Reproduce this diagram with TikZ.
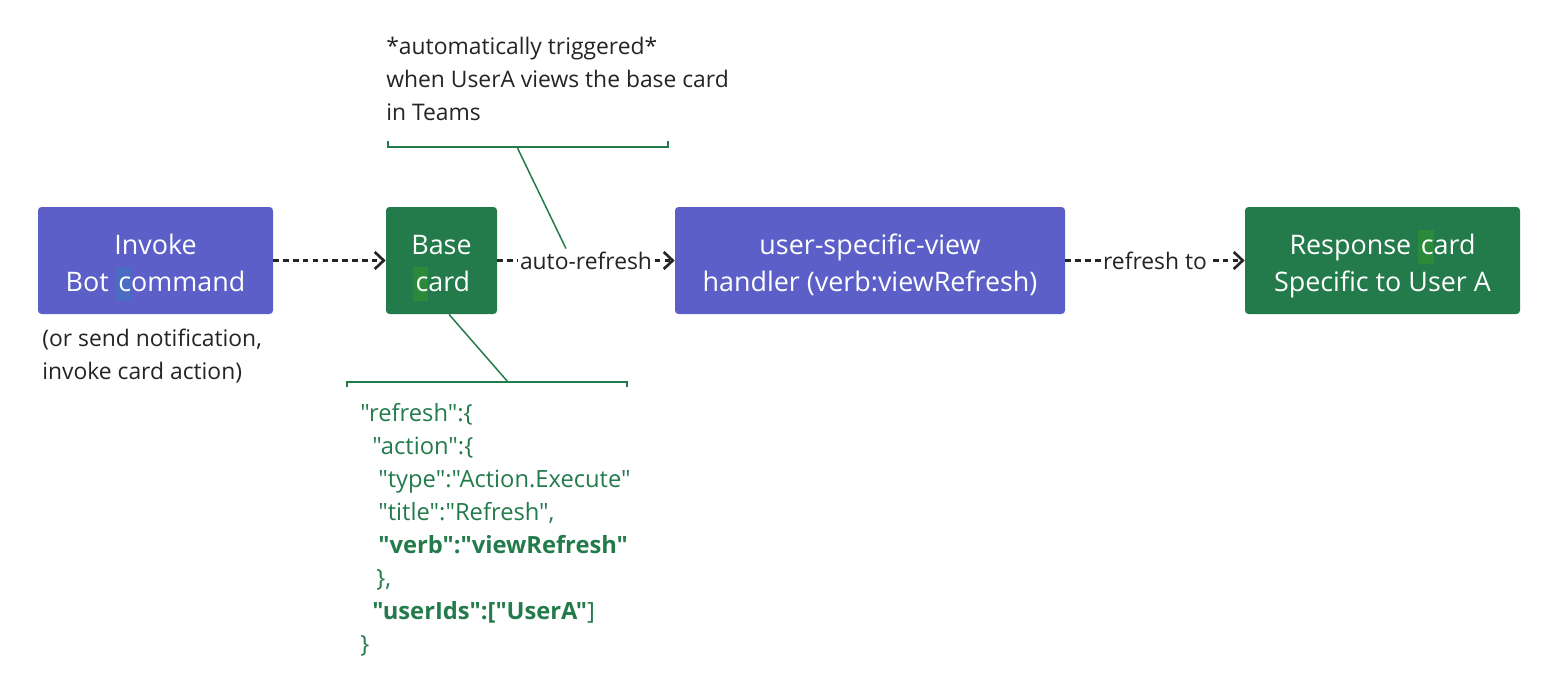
\documentclass[tikz,border=0pt]{standalone}
\usepackage{fontspec}
\setmainfont{Open Sans}[Ligatures=TeXOff]
\usetikzlibrary{arrows.meta,positioning,calc}
\definecolor{teamsblue}{HTML}{5B5FC7}
\definecolor{teamsgreen}{HTML}{237B4B}
\definecolor{inkgray}{HTML}{242424}
\definecolor{hlblue}{HTML}{4A6CC2}
\definecolor{hlgreen}{HTML}{2B8A3A}
\newcommand{\hlc}[2]{\smash{{\setlength{\fboxsep}{0pt}\colorbox{#2}{\rule[-0.33em]{0pt}{1.26em}\kern0.1em#1}}}}
\newcommand{\cardtext}[2]{\rule{0pt}{18.8pt}#1\\#2\rule[-4.2pt]{0pt}{4.2pt}}

\begin{document}
\begin{tikzpicture}[
  box/.style={rectangle, rounded corners=2pt, minimum height=2.14cm, inner sep=0pt, align=center, text=white, font=\fontsize{15.3}{21}\selectfont},
  bluebox/.style={box, fill=teamsblue},
  greenbox/.style={box, fill=teamsgreen},
  lab/.style={font=\fontsize{13}{18.7}\selectfont, text=inkgray},
  json/.style={font=\fontsize{13.5}{18.8}\selectfont, text=teamsgreen, align=left, inner sep=0pt},
  arr/.style={-{Straight Barb[length=1.8mm,width=3.4mm]}, line width=1.5pt, dash pattern=on 3.2pt off 2.4pt, inkgray},
  brace/.style={teamsgreen, line width=0.85pt}]
  \useasboundingbox (0,0) rectangle (31.16,-13.74);
  % boxes
  \node[bluebox, minimum width=4.7cm] (bot) at (3.11,-5.21) {\cardtext{Invoke}{Bot \hlc{c}{hlblue}ommand}};
  \node[greenbox, minimum width=2.22cm] (base) at (8.83,-5.21) {\cardtext{Base}{\hlc{c}{hlgreen}ard}};
  \node[bluebox, minimum width=7.8cm] (view) at (17.4,-5.21) {\cardtext{user-specific-view}{handler (verb:viewRefresh)}};
  \node[greenbox, minimum width=5.5cm] (resp) at (27.65,-5.21) {\cardtext{Response \hlc{c}{hlgreen}ard}{Specific to User A}};
  \draw[arr] (bot) -- (base);
  \draw[arr] (base) -- node[lab, fill=white, inner sep=1pt] (auto) {auto-refresh} (view);
  \draw[arr] (view) -- node[lab, fill=white, inner sep=1pt] (refr) {refresh to} (resp);
  % notes
  \node[lab, anchor=north west, align=left, inner sep=0pt] (notif) at (0.84,-6.58) {(or send notification,\\invoke card action)};
  \node[lab, anchor=north west, align=left, inner sep=0pt] (trig) at (7.72,-0.74) {*automatically triggered*\\when UserA views the base card\\in Teams};
  \draw[brace] (7.76,-2.82) -- (7.76,-2.94) -- (13.36,-2.94) -- (13.36,-2.82);
  \coordinate (tb) at (10.34,-2.94);
  \draw[brace] (tb) -- ($(auto.north)+(-0.4,0)$);
  % refresh json
  \node[json, anchor=north west] (code) at (7.2,-8.06) {"refresh":\{\\
    \hspace*{0.24cm}"action":\{\\
    \hspace*{0.36cm}"type":"Action.Execute"\\
    \hspace*{0.36cm}"title":"Refresh",\\
    \hspace*{0.36cm}\textbf{"verb":"viewRefresh"}\\
    \hspace*{0.32cm}\},\\
    \hspace*{0.24cm}\textbf{"userIds":["UserA"}]\\
    \}};
  \draw[brace] (6.94,-7.74) -- (6.94,-7.64) -- (12.54,-7.64) -- (12.54,-7.74);
  \coordinate (bb) at (10.16,-7.64);
  \draw[brace] (bb) -- ($(base.south)+(0.15,0)$);
\end{tikzpicture}
\end{document}
